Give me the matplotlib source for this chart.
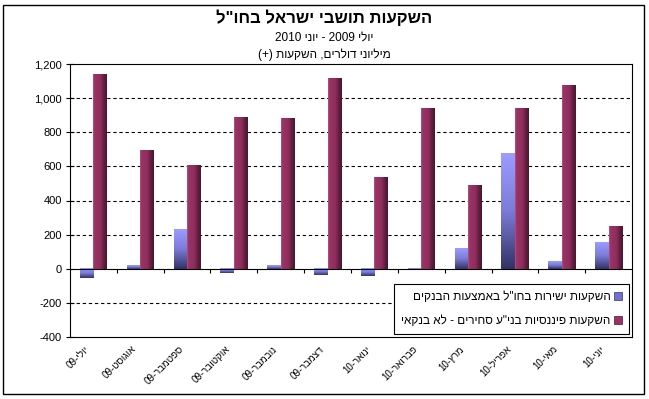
import re
import numpy as np
import matplotlib
matplotlib.use('Agg')
import matplotlib.pyplot as plt
from matplotlib.colors import LinearSegmentedColormap
from matplotlib.patches import Patch, Rectangle
from matplotlib.transforms import ScaledTranslation

plt.rcParams['font.family'] = ['Liberation Sans', 'DejaVu Sans']

title = 'השקעות תושבי ישראל בחו"ל'
subtitle = 'יולי 2009 - יוני 2010'
units = 'מיליוני דולרים, השקעות (+)'

months = ['יולי-09', 'אוגוסט-09', 'ספטמבר-09', 'אוקטובר-09', 'נובמבר-09', 'דצמבר-09',
          'ינואר-10', 'פברואר-10', 'מרץ-10', 'אפריל-10', 'מאי-10', 'יוני-10']
series_names = ['השקעות ישירות בחו"ל באמצעות הבנקים',
                'השקעות פיננסיות בני"ע סחירים - לא בנקאי']
direct_bank = [-53, 21, 230, -25, 20, -37, -45, -10, 123, 679, 43, 154]
portfolio_nonbank = [1141, 697, 607, 888, 882, 1114, 537, 939, 490, 942, 1077, 250]
yticks = [-400, -200, 0, 200, 400, 600, 800, 1000, 1200]


def vis(s):
    # matplotlib has no bidi support: put RTL text in visual order
    r = s[::-1]
    r = re.sub(r'[0-9][0-9,.]*[0-9]|[0-9]', lambda m: m.group(0)[::-1], r)
    return r.translate(str.maketrans('()', ')('))


blue_cmap = LinearSegmentedColormap.from_list('b', ['#9c9cff', '#7b7bd8', '#333366'])
maroon_cmap = LinearSegmentedColormap.from_list(
    'm', [(0, '#b65a85'), (0.08, '#9b3467'), (0.55, '#8e2d5c'), (0.72, '#6a2245'), (1, '#4a1530')])

fig = plt.figure(figsize=(6.49, 3.99), dpi=100)
ax = fig.add_axes([70 / 649, 1 - 337 / 399, 562 / 649, 273 / 399])

x = np.arange(len(months))
w = 0.29
bars1 = ax.bar(x - w / 2, direct_bank, w, color='none', zorder=2)
bars2 = ax.bar(x + w / 2, portfolio_nonbank, w, color='none', zorder=2)

vgrad = np.linspace(0, 1, 64).reshape(-1, 1)
hgrad = np.linspace(0, 1, 64).reshape(1, -1)
for bars, grad, cmap in [(bars1, vgrad, blue_cmap), (bars2, hgrad, maroon_cmap)]:
    for r in bars:
        bb = r.get_bbox()
        x0, x1 = sorted([bb.x0, bb.x1])
        y0, y1 = sorted([bb.y0, bb.y1])
        ax.imshow(grad, cmap=cmap, extent=(x0, x1, y0, y1), origin='upper',
                  aspect='auto', interpolation='bilinear', zorder=2)

ax.set_xlim(-0.5, len(months) - 0.5)
ax.set_ylim(yticks[0], yticks[-1])

for yv in yticks[1:-1]:
    if yv != 0:
        ax.axhline(yv, color='black', lw=0.8, dashes=(3, 2.5), zorder=1)
ax.axhline(0, color='black', lw=0.8, zorder=3)
ax.vlines(x[:-1] + 0.5, -24, 0, color='black', lw=0.8, zorder=3)

ax.set_yticks(yticks)
ax.set_yticklabels([f'{v:,}' for v in yticks])
ax.tick_params(axis='y', direction='inout', length=6, width=0.8, labelsize=8, pad=3)
ax.set_xticks(x)
ax.set_xticklabels([vis(m) for m in months], rotation=45, ha='right', va='top',
                   rotation_mode='anchor', fontsize=7)
ax.tick_params(axis='x', length=0, pad=5)
off = ScaledTranslation(-0.09, 0, fig.dpi_scale_trans)
for lab in ax.get_xticklabels():
    lab.set_transform(lab.get_transform() + off)
for sp in ax.spines.values():
    sp.set_linewidth(0.8)
    sp.set_color('black')

handles = [Patch(facecolor='#7070d0', edgecolor='#333366', lw=0.5),
           Patch(facecolor='#993366', edgecolor='#4a1530', lw=0.5)]
leg = ax.legend(handles, [vis(s) for s in series_names], loc='upper right',
                bbox_to_anchor=(0.995, 0.194), markerfirst=False, fontsize=8.5,
                handlelength=0.7, handleheight=0.7, handletextpad=0.3,
                labelspacing=1.0, borderpad=0.6, fancybox=False, framealpha=1,
                edgecolor='black', borderaxespad=0)
leg.get_frame().set_linewidth(0.8)

fig.text(0.5, 1 - 18 / 399, vis(title), ha='center', va='center', fontsize=12, fontweight='bold')
fig.text(0.5, 1 - 38 / 399, vis(subtitle), ha='center', va='center', fontsize=8.5)
fig.text(0.5, 1 - 55 / 399, vis(units), ha='center', va='center', fontsize=8.5)

fig.patches.append(Rectangle((3 / 649, 5 / 399), 641 / 649, 389 / 399, transform=fig.transFigure,
                             fill=False, edgecolor='black', lw=1))

fig.savefig('out.png', dpi=100)
